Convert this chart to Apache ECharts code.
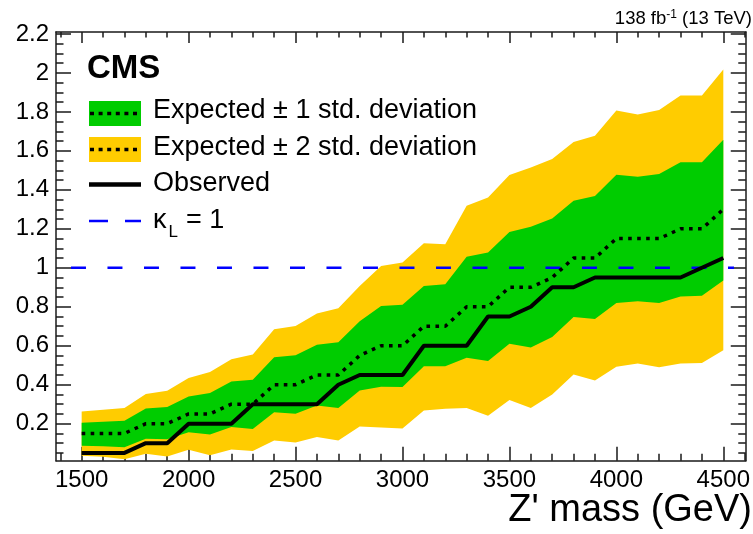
<!DOCTYPE html>
<html>
<head>
<meta charset="utf-8">
<script src="https://cdn.jsdelivr.net/npm/echarts@6/dist/echarts.min.js"></script>
<style>
  html, body { margin: 0; padding: 0; background: #ffffff; }
  #chart { width: 753px; height: 534px; }
</style>
</head>
<body>
<div id="chart"></div>
<script>
// Z' mass points (GeV)
const massGeV = [1500, 1600, 1700, 1800, 1900, 2000, 2100, 2200, 2300, 2400,
                 2500, 2600, 2700, 2800, 2900, 3000, 3100, 3200, 3300, 3400,
                 3500, 3600, 3700, 3800, 3900, 4000, 4100, 4200, 4300, 4400, 4500];

// Observed upper limit on kappa_L
const observed = [0.05, 0.05, 0.05, 0.10, 0.10, 0.20, 0.20, 0.20, 0.30, 0.30,
                  0.30, 0.30, 0.40, 0.45, 0.45, 0.45, 0.60, 0.60, 0.60, 0.75,
                  0.75, 0.80, 0.90, 0.90, 0.95, 0.95, 0.95, 0.95, 0.95, 1.00, 1.05];

// Median expected limit
const expected = [0.15, 0.15, 0.15, 0.20, 0.20, 0.25, 0.25, 0.30, 0.30, 0.40,
                  0.40, 0.45, 0.45, 0.55, 0.60, 0.60, 0.70, 0.70, 0.80, 0.80,
                  0.90, 0.90, 0.95, 1.05, 1.05, 1.15, 1.15, 1.15, 1.20, 1.20, 1.30];

// Expected +/- 1 std. deviation
const expPlus1 = [0.205, 0.210, 0.215, 0.278, 0.285, 0.340, 0.357, 0.417, 0.426, 0.541,
                  0.551, 0.605, 0.618, 0.726, 0.804, 0.810, 0.906, 0.915, 1.056, 1.078,
                  1.184, 1.210, 1.253, 1.344, 1.369, 1.477, 1.467, 1.481, 1.541, 1.541, 1.657];
const expMinus1 = [0.087, 0.084, 0.079, 0.123, 0.120, 0.156, 0.144, 0.183, 0.173, 0.258,
                   0.251, 0.293, 0.281, 0.370, 0.389, 0.388, 0.495, 0.495, 0.538, 0.521,
                   0.610, 0.591, 0.645, 0.748, 0.737, 0.819, 0.828, 0.819, 0.853, 0.856, 0.935];

// Expected +/- 2 std. deviation
const expPlus2 = [0.263, 0.272, 0.280, 0.352, 0.369, 0.434, 0.465, 0.531, 0.555, 0.684,
                  0.701, 0.766, 0.792, 0.906, 1.009, 1.027, 1.126, 1.121, 1.318, 1.361,
                  1.476, 1.515, 1.558, 1.646, 1.678, 1.807, 1.786, 1.810, 1.884, 1.884, 2.017];
const expMinus2 = [0.035, 0.030, 0.018, 0.046, 0.032, 0.066, 0.038, 0.068, 0.060, 0.114,
                   0.104, 0.132, 0.114, 0.186, 0.181, 0.175, 0.268, 0.277, 0.281, 0.241,
                   0.322, 0.281, 0.350, 0.452, 0.421, 0.492, 0.509, 0.490, 0.509, 0.512, 0.577];

// Reference line kappa_L = 1
const kappaRefMass = [1450, 4550];
const kappaRefValue = [1, 1];

// Axis ticks
const xTickLabels = [1500, 2000, 2500, 3000, 3500, 4000, 4500];
const yTickLabels = [0.2, 0.4, 0.6, 0.8, 1, 1.2, 1.4, 1.6, 1.8, 2, 2.2];

const xMinorTicks = [];
for (let m = 1400; m <= 4600; m += 100) xMinorTicks.push(m);
const yMinorTicks = [];
for (let k = 1; k <= 44; k++) yMinorTicks.push(Number((k * 0.05).toFixed(2)));

const FONT = '"Liberation Sans", Arial, Helvetica, sans-serif';
const AXIS_COLOR = '#1a1a1a';
const YELLOW = '#ffcc00';
const GREEN = '#00cc00';
const BLUE = '#0000ff';

const X_MIN = 1380, X_MAX = 4605;
const Y_MIN = 0.01, Y_MAX = 2.21;

const plainNumber = function (v) { return String(v); };

function xAxisDef(position, ticks, len, withLine, withLabels) {
  return {
    type: 'value', position: position, min: X_MIN, max: X_MAX,
    splitLine: { show: false },
    axisLine: { show: withLine, lineStyle: { color: AXIS_COLOR, width: 1.5 } },
    axisTick: { show: true, inside: true, length: len, customValues: ticks,
                lineStyle: { color: AXIS_COLOR, width: 1.5 } },
    axisLabel: withLabels ? {
      show: true, customValues: ticks, margin: 8, formatter: plainNumber,
      color: '#000', fontSize: 24, fontFamily: FONT
    } : { show: false }
  };
}

function yAxisDef(position, ticks, len, withLine, withLabels) {
  return {
    type: 'value', position: position, min: Y_MIN, max: Y_MAX,
    splitLine: { show: false },
    axisLine: { show: withLine, lineStyle: { color: AXIS_COLOR, width: 1.5 } },
    axisTick: { show: true, inside: true, length: len, customValues: ticks,
                lineStyle: { color: AXIS_COLOR, width: 1.5 } },
    axisLabel: withLabels ? {
      show: true, customValues: ticks, margin: 7, formatter: plainNumber,
      color: '#000', fontSize: 24, fontFamily: FONT
    } : { show: false }
  };
}

function bandSeries(lower, upper, color) {
  return {
    type: 'custom', silent: true, xAxisIndex: 0, yAxisIndex: 0,
    data: [[massGeV[0], lower[0]]],
    renderItem: function (params, api) {
      const pts = [];
      for (let i = 0; i < massGeV.length; i++) pts.push(api.coord([massGeV[i], upper[i]]));
      for (let i = massGeV.length - 1; i >= 0; i--) pts.push(api.coord([massGeV[i], lower[i]]));
      return { type: 'polygon', shape: { points: pts }, style: { fill: color } };
    }
  };
}

function pairs(xs, ys) { return xs.map((x, i) => [x, ys[i]]); }

function label(text, x, y, size, weight, align) {
  return {
    type: 'text', silent: true,
    style: {
      text: text, x: x, y: y, fill: '#000',
      font: (weight || 'normal') + ' ' + size + 'px ' + FONT,
      textAlign: align || 'left', align: align || 'left',
      textVerticalAlign: 'middle', verticalAlign: 'middle'
    }
  };
}

const LEG_X0 = 89, LEG_X1 = 141;
const legendGraphics = [
  label('CMS', 87, 68.6, 33, 'bold'),
  { type: 'rect', silent: true, shape: { x: LEG_X0, y: 101, width: LEG_X1 - LEG_X0, height: 25 }, style: { fill: GREEN } },
  { type: 'line', silent: true, shape: { x1: LEG_X0 + 1, y1: 113.5, x2: LEG_X1, y2: 113.5 },
    style: { stroke: '#000', lineWidth: 3.5, lineDash: [4, 4.6] } },
  label('Expected \u00b1 1 std. deviation', 153, 110.6, 27),
  { type: 'rect', silent: true, shape: { x: LEG_X0, y: 137, width: LEG_X1 - LEG_X0, height: 25 }, style: { fill: YELLOW } },
  { type: 'line', silent: true, shape: { x1: LEG_X0 + 1, y1: 149.5, x2: LEG_X1, y2: 149.5 },
    style: { stroke: '#000', lineWidth: 3.5, lineDash: [4, 4.6] } },
  label('Expected \u00b1 2 std. deviation', 153, 147.3, 27),
  { type: 'line', silent: true, shape: { x1: LEG_X0, y1: 184.5, x2: LEG_X1, y2: 184.5 },
    style: { stroke: '#000', lineWidth: 4.5 } },
  label('Observed', 153, 183.3, 27),
  { type: 'line', silent: true, shape: { x1: LEG_X0, y1: 221, x2: LEG_X1, y2: 221 },
    style: { stroke: BLUE, lineWidth: 2.5, lineDash: [19, 17] } },
  label('\u03ba', 153, 220.6, 27),
  label('L', 168.5, 232.5, 17),
  label('= 1', 186, 220.6, 27),
  label("Z' mass (GeV)", 752, 510.8, 38, 'normal', 'right')
];

const chart = echarts.init(document.getElementById('chart'), null, { renderer: 'canvas' });
chart.setOption({
  animation: false,
  backgroundColor: '#ffffff',
  title: {
    text: '{a|138 fb}{s|-1}{a| (13 TeV)}',
    right: 1, top: 9, padding: 0,
    textStyle: {
      fontWeight: 'normal', fontSize: 18.5, fontFamily: FONT, color: '#000',
      rich: {
        a: { fontSize: 18.5, fontWeight: 'normal', fontFamily: FONT, color: '#000', lineHeight: 20 },
        s: { fontSize: 12, fontWeight: 'normal', fontFamily: FONT, color: '#000', lineHeight: 12, verticalAlign: 'top' }
      }
    }
  },
  grid: { left: 56, top: 32, width: 694, height: 428.7, containLabel: false },
  xAxis: [
    xAxisDef('bottom', xTickLabels, 14, true, true),
    xAxisDef('bottom', xMinorTicks, 7, false, false),
    xAxisDef('top', xTickLabels, 11, true, false),
    xAxisDef('top', xMinorTicks, 5.5, false, false)
  ],
  yAxis: [
    yAxisDef('left', yTickLabels, 15, true, true),
    yAxisDef('left', yMinorTicks, 7.5, false, false),
    yAxisDef('right', yTickLabels, 15, true, false),
    yAxisDef('right', yMinorTicks, 7.5, false, false)
  ],
  series: [
    bandSeries(expMinus2, expPlus2, YELLOW),
    bandSeries(expMinus1, expPlus1, GREEN),
    {
      type: 'line', silent: true, symbol: 'none', xAxisIndex: 0, yAxisIndex: 0,
      data: pairs(kappaRefMass, kappaRefValue),
      lineStyle: { color: BLUE, width: 2.5, type: [15, 21.5] }
    },
    {
      type: 'line', silent: true, symbol: 'none', xAxisIndex: 0, yAxisIndex: 0,
      data: pairs(massGeV, expected),
      lineStyle: { color: '#000', width: 3.5, type: [3.6, 5.4], cap: 'butt' }
    },
    {
      type: 'line', silent: true, symbol: 'none', xAxisIndex: 0, yAxisIndex: 0,
      data: pairs(massGeV, observed),
      lineStyle: { color: '#000', width: 4 }
    }
  ],
  graphic: legendGraphics
});
</script>
</body>
</html>
